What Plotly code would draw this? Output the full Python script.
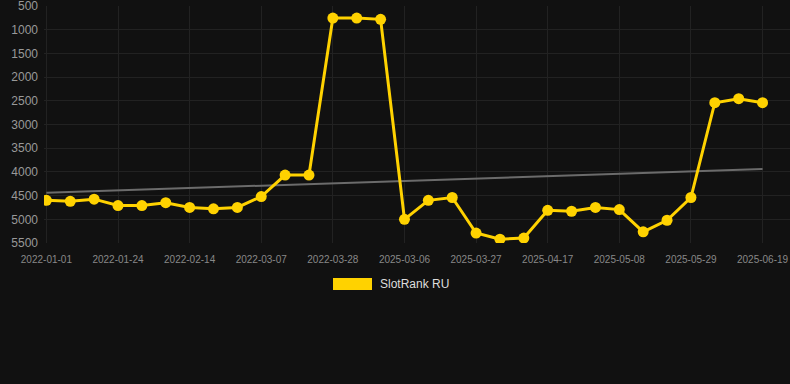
import plotly.graph_objects as go

dates = [
    "2022-01-01", "2022-01-08", "2022-01-16", "2022-01-24", "2022-01-31", "2022-02-07",
    "2022-02-14", "2022-02-21", "2022-02-28", "2022-03-07", "2022-03-14", "2022-03-21",
    "2022-03-28", "2022-04-04", "2025-02-27", "2025-03-06", "2025-03-13", "2025-03-20",
    "2025-03-27", "2025-04-03", "2025-04-10", "2025-04-17", "2025-04-24", "2025-05-01",
    "2025-05-08", "2025-05-15", "2025-05-22", "2025-05-29", "2025-06-05", "2025-06-12",
    "2025-06-19",
]
rank_ru = [
    4600, 4620, 4575, 4710, 4710, 4650, 4750, 4780, 4750, 4520, 4066, 4066,
    754, 754, 782, 5000, 4600, 4540, 5290, 5420, 5395, 4810, 4830, 4750,
    4795, 5265, 5020, 4540, 2540, 2456, 2540,
]
trend_ends = [4440, 3940]
y_ticks = [500, 1000, 1500, 2000, 2500, 3000, 3500, 4000, 4500, 5000, 5500]
series_name = "SlotRank RU"

fig = go.Figure()
fig.add_trace(go.Scatter(
    x=[dates[0], dates[-1]], y=trend_ends, mode="lines",
    line=dict(color="#6b6b6b", width=2), showlegend=False, hoverinfo="skip",
))
fig.add_trace(go.Scatter(
    x=dates, y=rank_ru, mode="lines+markers", name=series_name,
    line=dict(color="#FFD200", width=3),
    marker=dict(color="#FFD200", size=11),
    showlegend=False,
))

fig.update_layout(
    width=790, height=384,
    paper_bgcolor="#111111", plot_bgcolor="#111111",
    margin=dict(l=44, r=0, t=6, b=141),
    font=dict(family="Liberation Sans, Arial, sans-serif", color="#999999"),
    xaxis=dict(
        type="category", categoryorder="array", categoryarray=dates,
        range=[-0.1, 31.15],
        tickvals=dates[::3], ticktext=dates[::3],
        tickfont=dict(size=10, color="#888888"), tickangle=0,
        showgrid=True, gridcolor="#222222", gridwidth=1,
        zeroline=False, showline=False, ticks="", ticklabelstandoff=9,
        ticklabeloverflow="allow",
    ),
    yaxis=dict(
        range=[5500, 500], tickvals=y_ticks,
        tickfont=dict(size=12, color="#999999"),
        showgrid=True, gridcolor="#222222", gridwidth=1,
        zeroline=False, showline=False, ticks="", ticklabelstandoff=5,
        ticklabeloverflow="allow",
    ),
    showlegend=False,
)

fig.add_shape(type="rect", xref="paper", yref="paper",
              x0=(333 - 44) / 746, x1=(372 - 44) / 746,
              y0=(384 - 141 - 290) / 237, y1=(384 - 141 - 278) / 237,
              fillcolor="#FFD200", line=dict(width=0))
fig.add_annotation(xref="paper", yref="paper",
                   x=(378 - 44) / 746, y=(384 - 141 - 284) / 237,
                   text=series_name, showarrow=False, xanchor="left", yanchor="middle",
                   font=dict(size=12, color="#dddddd"))

fig.write_html("out.html", config={"displayModeBar": False},
               post_script="document.body.style.margin='0';document.body.style.background='#111111';")
